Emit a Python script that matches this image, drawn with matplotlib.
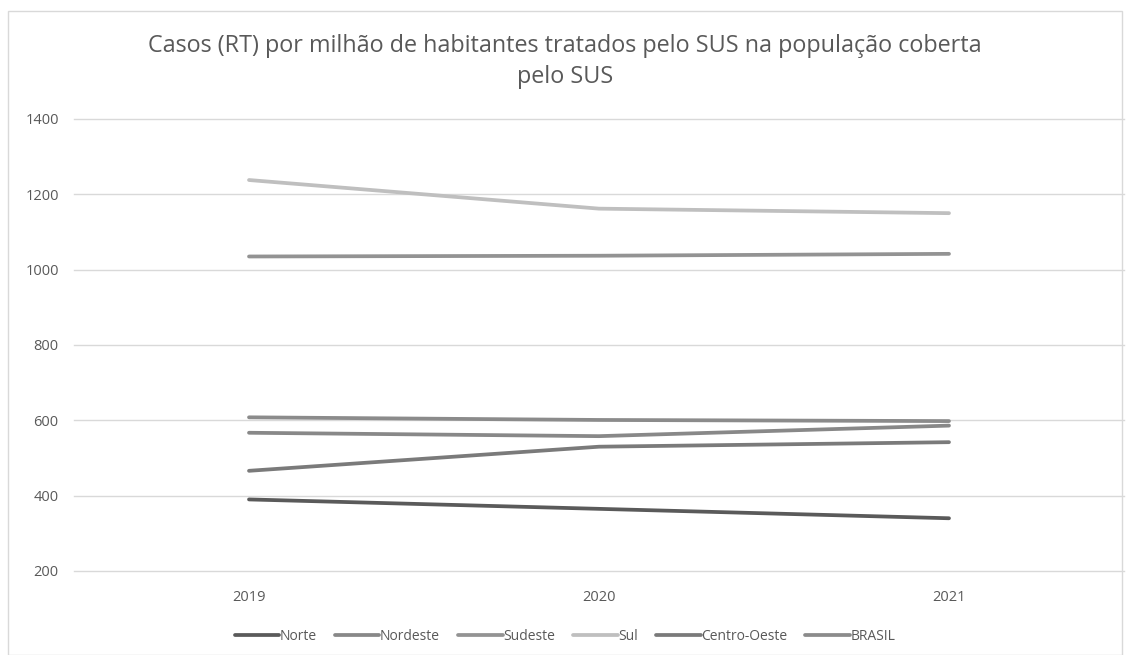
import matplotlib
matplotlib.use("Agg")
import matplotlib.pyplot as plt
from matplotlib.patches import Rectangle

# Values
years = ["2019", "2020", "2021"]
norte = [390, 365, 340]
nordeste = [567, 558, 586]
sudeste = [1035, 1037, 1042]
sul = [1238, 1162, 1150]
centro_oeste = [466, 530, 542]
brasil = [608, 601, 598]

series = [
    ("Norte", norte, "#5a5a5a"),
    ("Nordeste", nordeste, "#888888"),
    ("Sudeste", sudeste, "#939393"),
    ("Sul", sul, "#bfbfbf"),
    ("Centro-Oeste", centro_oeste, "#7a7a7a"),
    ("BRASIL", brasil, "#8b8b8b"),
]

plt.rcParams['font.family'] = ['Open Sans', 'DejaVu Sans']

fig = plt.figure(figsize=(11.3, 6.55), dpi=100)
ax = fig.add_axes([74 / 1130, 1 - 571 / 655, 1050 / 1130, 452 / 655])

x = list(range(len(years)))
for name, vals, color in series:
    ax.plot(x, vals, color=color, linewidth=2.7, label=name, solid_capstyle='round')

ax.set_xlim(-0.5, 2.5)
ax.set_ylim(200, 1400)
ax.set_yticks(range(200, 1401, 200))
ax.set_xticks(x)
ax.set_xticklabels(years)
ax.tick_params(axis='both', length=0, labelsize=10.5, colors='#595959')
ax.tick_params(axis='y', pad=11)
ax.tick_params(axis='x', pad=14)
ax.grid(axis='y', color='#d9d9d9', linewidth=1)
for gl in ax.get_ygridlines():
    gl.set_clip_on(False)
ax.set_axisbelow(True)
for s in ax.spines.values():
    s.set_visible(False)

fig.text(0.5, 1 - 46 / 655, "Casos (RT) por milhão de habitantes tratados pelo SUS na população coberta",
         ha='center', va='center', fontsize=16.8, color='#595959')
fig.text(0.5, 1 - 77 / 655, "pelo SUS", ha='center', va='center', fontsize=16.8, color='#595959')

fig.legend(loc='center', bbox_to_anchor=(0.5, 1 - 636 / 655), ncol=6, frameon=False,
           fontsize=10, labelcolor='#595959', handlelength=3.2, handletextpad=0.05,
           columnspacing=1.3)

fig.patches.append(Rectangle((8 / 1130, 0), 1114 / 1130, 1 - 11 / 655, transform=fig.transFigure,
                             fill=False, edgecolor='#d9d9d9', linewidth=1))

fig.savefig("out.png", dpi=100)
